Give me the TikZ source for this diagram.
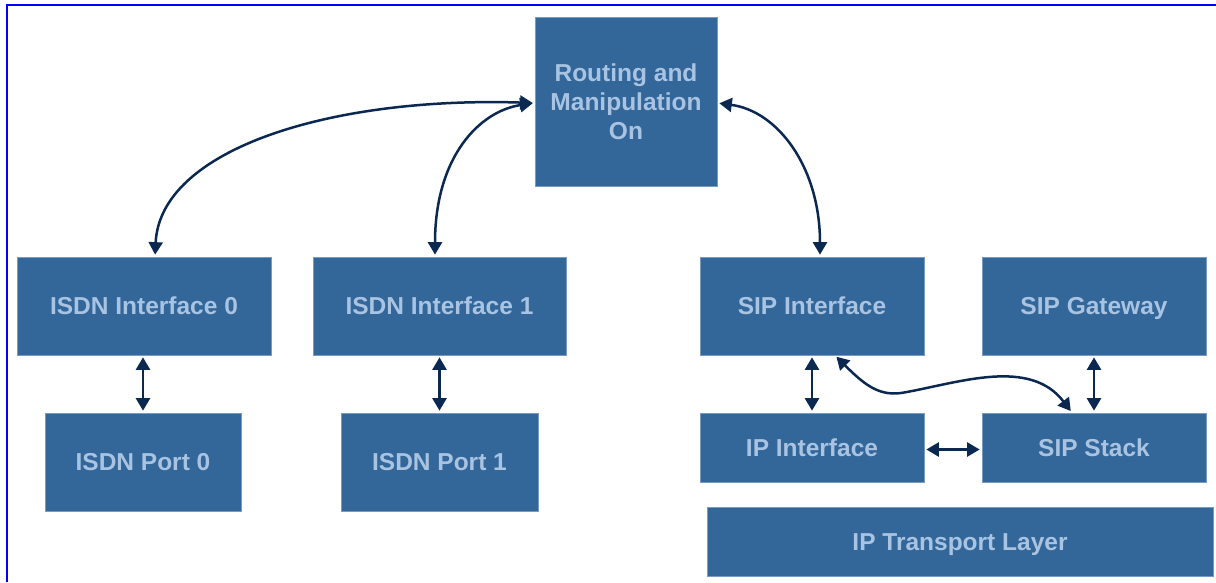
\documentclass[tikz,border=0pt]{standalone}
\usepackage{fontspec}
\setmainfont{Liberation Sans}
\usetikzlibrary{arrows.meta}
\definecolor{boxfill}{RGB}{51,102,153}
\definecolor{boxedge}{RGB}{120,155,195}
\definecolor{boxtext}{RGB}{168,196,226}
\definecolor{linkc}{RGB}{10,40,80}
\definecolor{framec}{RGB}{0,0,255}
\tikzset{
  block/.style={rectangle, fill=boxfill, draw=boxedge, line width=0.7pt,
    inner sep=0pt, align=center, text=boxtext,
    font=\fontsize{24.5}{29}\selectfont\bfseries},
  oneline/.style={block, text height=17.5pt, text depth=0pt},
  link/.style={draw=linkc, line width=2.5pt,
    {Triangle[width=14pt,length=12.5pt]}-{Triangle[width=14pt,length=12.5pt]},
    shorten <=2pt, shorten >=2pt},
}
\begin{document}
\begin{tikzpicture}[x=1pt,y=-1pt]
\useasboundingbox (0,0) rectangle (1216,582);
% frame lines along the top and left edges
\draw[framec, line width=2pt] (7,582) -- (7,5) -- (1216,5);

% blocks
\node[block, minimum width=182pt, minimum height=169pt] (route) at (626,101.5)
  {Routing and\\Manipulation\\On};
\node[oneline, minimum width=254pt, minimum height=98pt] (isdn0) at (144,306) {ISDN Interface 0};
\node[oneline, minimum width=196pt, minimum height=98pt] (port0) at (143,462) {ISDN Port 0};
\node[oneline, minimum width=253pt, minimum height=98pt] (isdn1) at (439.5,306) {ISDN Interface 1};
\node[oneline, minimum width=197pt, minimum height=98pt] (port1) at (439.5,462) {ISDN Port 1};
\node[oneline, minimum width=224pt, minimum height=98pt] (sipif) at (812,306) {SIP Interface};
\node[oneline, minimum width=224pt, minimum height=98pt] (sipgw) at (1094,306) {SIP Gateway};
\node[oneline, minimum width=224pt, minimum height=69pt] (ipif) at (812,447.5) {IP Interface};
\node[oneline, minimum width=224pt, minimum height=69pt] (sipstack) at (1094,447.5) {SIP Stack};
\node[oneline, minimum width=506pt, minimum height=69pt] (iptrans) at (960,541.5) {IP Transport Layer};

% curved links to the routing block
\draw[link] ([yshift=-1.5pt]route.west) .. controls +(-205,-6.5) and +(5,-107) .. ([xshift=11pt]isdn0.north);
\draw[link] ([yshift=-1.5pt]route.west) .. controls +(-55,8) and +(0,-100) .. ([xshift=-4.5pt]isdn1.north);
\draw[link] ([yshift=-1.5pt]route.east) .. controls +(60,8) and +(0,-90) .. ([xshift=8pt]sipif.north);

% straight links
\draw[link] (isdn0.south -| port0.north) -- (port0.north);
\draw[link] (isdn1.south) -- (isdn1.south |- port1.north);
\draw[link] (sipif.south) -- (sipif.south |- ipif.north);
\draw[link] (sipgw.south) -- (sipgw.south |- sipstack.north);
\draw[link] ([yshift=-2pt]ipif.east) -- ([yshift=-2pt]sipstack.west);

% wavy link from the SIP interface to the SIP stack
\draw[link] ([xshift=23pt]sipif.south) .. controls +(30,30) and +(-25,5) .. ++(70,37)
  .. controls +(55,-10) and +(-42,-55) .. ([xshift=-22pt]sipstack.north);
\end{tikzpicture}
\end{document}
